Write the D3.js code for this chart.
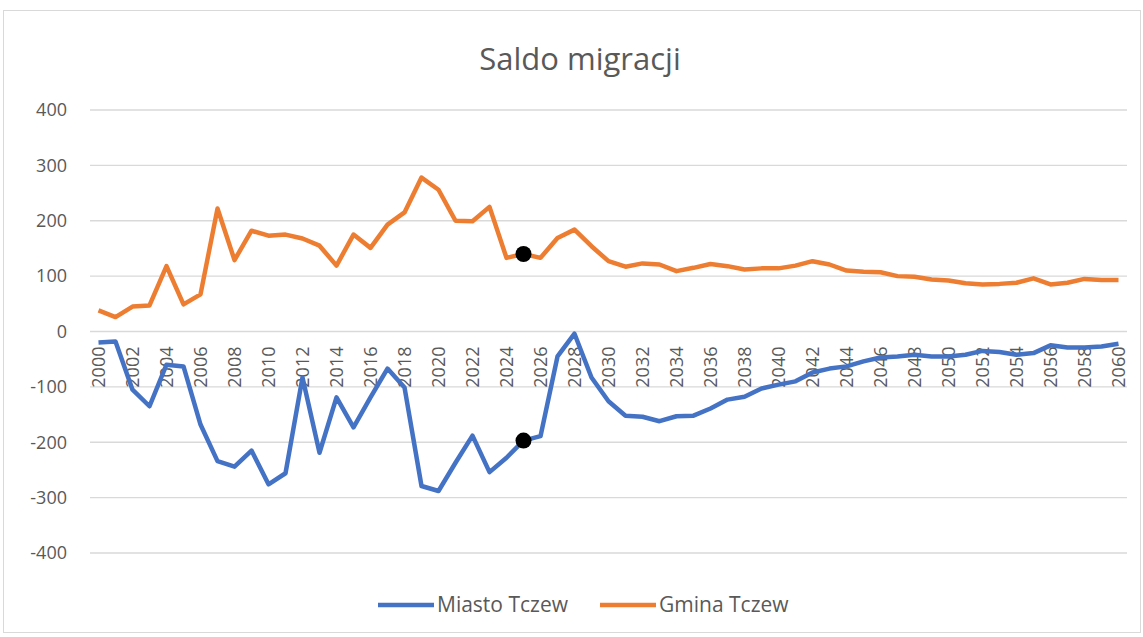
<html>
<head>
<meta charset="utf-8">
<script src="https://d3js.org/d3.v7.min.js"></script>
<style>
  body { margin: 0; background: #fff; }
  text { font-family: "Open Sans", sans-serif; fill: #595959; }
</style>
</head>
<body>
<div id="chart"></div>
<script>
// years 2000..2060
var years = d3.range(2000, 2061);

var miasto = [-20, -18, -105, -135, -60, -63, -168, -234, -244, -215,
              -276, -256, -83, -219, -119, -173, -119, -67, -101, -279,
              -288, -237, -188, -254, -228, -197, -189, -45, -4, -83,
              -126, -152, -154, -162, -153, -152, -139, -123, -118, -103,
              -96, -90, -74, -67, -63, -54, -47, -45, -42, -45,
              -45, -42, -35, -37, -42, -39, -25, -29, -29, -27,
              -22];

var gmina = [38, 26, 45, 47, 118, 49, 67, 222, 129, 182,
             173, 175, 168, 155, 119, 175, 151, 193, 215, 278,
             256, 200, 199, 225, 133, 140, 133, 169, 184, 154,
             127, 117, 123, 121, 109, 115, 122, 118, 112, 114,
             114, 119, 127, 121, 110, 108, 107, 100, 99, 94,
             92, 87, 85, 86, 88, 96, 85, 88, 95, 93,
             93];

var yTicks = [400, 300, 200, 100, 0, -100, -200, -300, -400];
var markedYears = [2025];

var width = 1143, height = 637;
var svg = d3.select("#chart").append("svg")
    .attr("width", width)
    .attr("height", height);

// chart frame
svg.append("rect")
    .attr("x", 3.5).attr("y", 10.5)
    .attr("width", 1137).attr("height", 622)
    .attr("fill", "#fff")
    .attr("stroke", "#d9d9d9");

var x = d3.scalePoint()
    .domain(years)
    .range([90, 1127])
    .padding(0.5);

var y = d3.scaleLinear()
    .domain([-400, 400])
    .range([553, 110]);

// gridlines
svg.append("g")
  .selectAll("line")
  .data(yTicks)
  .enter()
  .append("line")
    .attr("x1", 90).attr("x2", 1127)
    .attr("y1", function(d) { return y(d); })
    .attr("y2", function(d) { return y(d); })
    .attr("stroke", "#d9d9d9")
    .attr("stroke-width", 1.3);

// y labels
svg.append("g")
  .selectAll("text")
  .data(yTicks)
  .enter()
  .append("text")
    .attr("x", 67)
    .attr("y", function(d) { return y(d); })
    .attr("dy", "0.35em")
    .attr("text-anchor", "end")
    .attr("font-size", "18px")
    .text(function(d) { return d; });

// x labels (every second year), rotated
svg.append("g")
  .selectAll("text")
  .data(years.filter(function(d) { return d % 2 === 0; }))
  .enter()
  .append("text")
    .attr("transform", function(d) { return "translate(" + x(d) + "," + (y(0) + 15) + ") rotate(-90)"; })
    .attr("dy", "0.35em")
    .attr("text-anchor", "end")
    .attr("font-size", "18px")
    .text(function(d) { return d; });

var line = d3.line()
    .x(function(d, i) { return x(years[i]); })
    .y(function(d) { return y(d); });

svg.append("path")
    .datum(gmina)
    .attr("d", line)
    .attr("fill", "none")
    .attr("stroke", "#ED7D31")
    .attr("stroke-width", 4.5)
    .attr("stroke-linejoin", "round");

svg.append("path")
    .datum(miasto)
    .attr("d", line)
    .attr("fill", "none")
    .attr("stroke", "#4472C4")
    .attr("stroke-width", 4.5)
    .attr("stroke-linejoin", "round");

// black markers at the marked year on both series
[miasto, gmina].forEach(function(series) {
  svg.append("g")
    .selectAll("circle")
    .data(markedYears)
    .enter()
    .append("circle")
      .attr("cx", function(d) { return x(d); })
      .attr("cy", function(d) { return y(series[years.indexOf(d)]); })
      .attr("r", 8)
      .attr("fill", "#000");
});

// title
svg.append("text")
    .attr("x", 580)
    .attr("y", 70)
    .attr("text-anchor", "middle")
    .attr("font-size", "31px")
    .text("Saldo migracji");

// legend
var legend = [
  {name: "Miasto Tczew", color: "#4472C4", x: 378},
  {name: "Gmina Tczew", color: "#ED7D31", x: 600}
];
var lg = svg.append("g")
  .selectAll("g")
  .data(legend)
  .enter()
  .append("g")
    .attr("transform", function(d) { return "translate(" + d.x + ",605)"; });
lg.append("line")
    .attr("x1", 0).attr("x2", 56)
    .attr("stroke", function(d) { return d.color; })
    .attr("stroke-width", 4.5);
lg.append("text")
    .attr("x", 59)
    .attr("dy", "0.35em")
    .attr("font-size", "21px")
    .text(function(d) { return d.name; });
</script>
</body>
</html>
